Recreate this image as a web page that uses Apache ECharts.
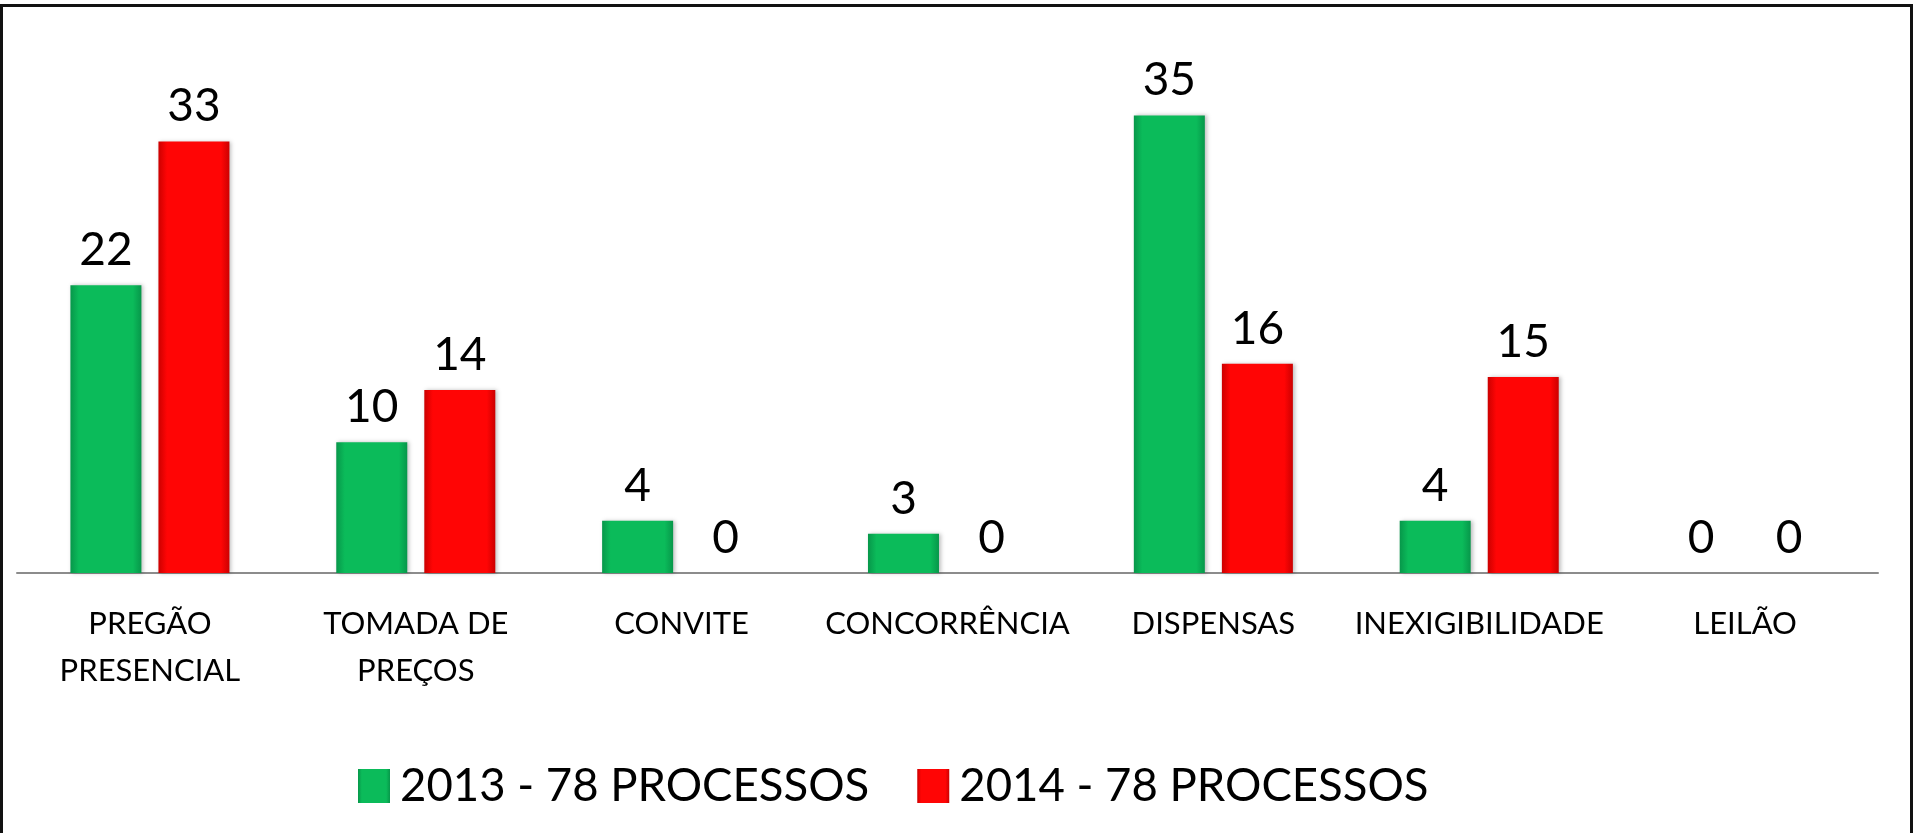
<!DOCTYPE html>
<html>
<head>
<meta charset="utf-8">
<script src="https://cdn.jsdelivr.net/npm/echarts@6/dist/echarts.min.js"></script>
<style>
  html, body { margin: 0; padding: 0; background: #fff; }
  #chart { width: 1913px; height: 833px; }
</style>
</head>
<body>
<div id="chart"></div>
<script>
const categories = ['PREGÃO\nPRESENCIAL', 'TOMADA DE\nPREÇOS', 'CONVITE', 'CONCORRÊNCIA', 'DISPENSAS', 'INEXIGIBILIDADE', 'LEILÃO']
const seriesNames = ['2013 - 78 PROCESSOS', '2014 - 78 PROCESSOS']
const values2013 = [22, 10, 4, 3, 35, 4, 0]
const values2014 = [33, 14, 0, 0, 16, 15, 0]

const chart = echarts.init(document.getElementById('chart'))

// gradiente horizontal para imitar o relevo das barras
const bevel = (edge, mid) => new echarts.graphic.LinearGradient(0, 0, 1, 0, [
  { offset: 0, color: edge },
  { offset: 0.12, color: mid },
  { offset: 0.88, color: mid },
  { offset: 1, color: edge }
])

const labelStyle = {
  show: true,
  position: 'top',
  distance: 12,
  fontFamily: 'Lato',
  fontSize: 46,
  color: '#000'
}

const option = {
  backgroundColor: '#fff',
  animation: false,
  textStyle: { fontFamily: 'Lato' },
  graphic: [
    { type: 'rect', shape: { x: 0, y: 4, width: 1913, height: 3 }, style: { fill: '#111' } },
    { type: 'rect', shape: { x: 0, y: 4, width: 3, height: 829 }, style: { fill: '#111' } },
    { type: 'rect', shape: { x: 1910, y: 4, width: 3, height: 829 }, style: { fill: '#111' } }
  ],
  legend: {
    data: seriesNames,
    icon: 'rect',
    left: 353,
    top: 758,
    itemWidth: 32,
    itemHeight: 34,
    itemGap: 48,
    textStyle: { fontSize: 45.5, color: '#000', fontFamily: 'Lato', padding: [0, 0, 0, 5] }
  },
  grid: {
    top: 50,
    left: 17,
    right: 35,
    bottom: 260
  },
  xAxis: {
    type: 'category',
    data: categories,
    axisLine: { lineStyle: { color: '#8c8c8c', width: 2 } },
    axisTick: { show: false },
    axisLabel: {
      fontSize: 31,
      lineHeight: 47,
      margin: 27,
      color: '#000',
      fontFamily: 'Lato',
      interval: 0
    }
  },
  yAxis: {
    type: 'value',
    min: 0,
    max: 40,
    show: false,
    splitLine: { show: false }
  },
  series: [
    {
      name: seriesNames[0],
      type: 'bar',
      data: values2013,
      barWidth: 71,
      barGap: '24%',
      itemStyle: {
        color: bevel('#07974a', '#0bbb5a'),
        shadowColor: 'rgba(0,0,0,0.25)',
        shadowBlur: 4,
        shadowOffsetX: 2
      },
      label: labelStyle
    },
    {
      name: seriesNames[1],
      type: 'bar',
      data: values2014,
      barWidth: 71,
      barGap: '24%',
      itemStyle: {
        color: bevel('#cc0000', '#ff0505'),
        shadowColor: 'rgba(0,0,0,0.25)',
        shadowBlur: 4,
        shadowOffsetX: 2
      },
      label: labelStyle
    }
  ]
}

chart.setOption(option)
</script>
</body>
</html>
